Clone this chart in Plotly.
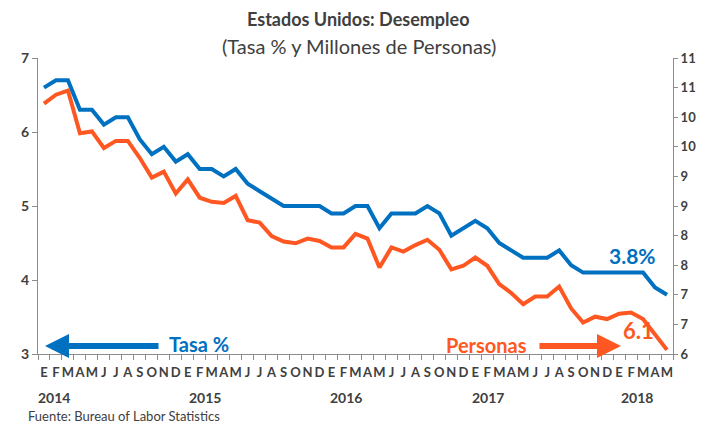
import plotly.graph_objects as go

months_2014_2017 = ["E", "F", "M", "A", "M", "J", "J", "A", "S", "O", "N", "D"]
month_labels = months_2014_2017 * 4 + ["E", "F", "M", "A", "M"]
years = ["2014", "2015", "2016", "2017", "2018"]

# Unemployment rate (%), Jan 2014 - May 2018
tasa = [6.6, 6.7, 6.7, 6.3, 6.3, 6.1, 6.2, 6.2, 5.9, 5.7, 5.8, 5.6,
        5.7, 5.5, 5.5, 5.4, 5.5, 5.3, 5.2, 5.1, 5.0, 5.0, 5.0, 5.0,
        4.9, 4.9, 5.0, 5.0, 4.7, 4.9, 4.9, 4.9, 5.0, 4.9, 4.6, 4.7,
        4.8, 4.7, 4.5, 4.4, 4.3, 4.3, 4.3, 4.4, 4.2, 4.1, 4.1, 4.1,
        4.1, 4.1, 4.1, 3.9, 3.8]
# Unemployed persons (millions)
personas = [10.23, 10.38, 10.45, 9.73, 9.76, 9.48, 9.60, 9.60, 9.31, 8.98, 9.08, 8.71,
            8.95, 8.64, 8.57, 8.55, 8.67, 8.26, 8.22, 7.99, 7.90, 7.87, 7.95, 7.91,
            7.80, 7.80, 8.03, 7.95, 7.46, 7.80, 7.73, 7.84, 7.93, 7.76, 7.43, 7.49,
            7.63, 7.49, 7.18, 7.03, 6.84, 6.97, 6.97, 7.14, 6.77, 6.53, 6.63, 6.59,
            6.68, 6.70, 6.59, 6.32, 6.07]

right_tickvals = [6, 6.5, 7, 7.5, 8, 8.5, 9, 9.5, 10, 10.5, 11]
right_ticktext = ["6", "7", "7", "8", "8", "9", "9", "10", "10", "11", "11"]

BLUE = "#0070C0"
ORANGE = "#FF5722"
TXT = "#404040"
AXC = "#8C8C8C"
FONT = "Lato"

# the page body has an 8px margin; the figure is sized to fill the rest
OFF = 8
VW, VH = 714, 426
W, H = VW - OFF, VH - OFF
PLOT_L, PLOT_R, PLOT_T, PLOT_B = 38, 673, 58, 354  # in window pixels
L = PLOT_L - OFF
T = PLOT_T - OFF
R = VW - PLOT_R
B = VH - PLOT_B
PW, PH = PLOT_R - PLOT_L, PLOT_B - PLOT_T


def px(x):
    return (x - PLOT_L) / PW


def py(y):
    return (PLOT_B - y) / PH


n = len(tasa)
xs = list(range(n))

fig = go.Figure()
fig.add_trace(go.Scatter(x=xs, y=tasa, mode="lines", yaxis="y",
                         line=dict(color=BLUE, width=4), hoverinfo="skip"))
fig.add_trace(go.Scatter(x=xs, y=personas, mode="lines", yaxis="y2",
                         line=dict(color=ORANGE, width=4), hoverinfo="skip"))

ann = []
ann.append(dict(text="<b>Estados Unidos: Desempleo</b>", xref="paper", yref="paper",
                x=px(358), y=py(19), showarrow=False, xanchor="center", yanchor="middle",
                borderpad=0, font=dict(family=FONT, size=18, color=TXT)))
ann.append(dict(text="(Tasa % y Millones de Personas)", xref="paper", yref="paper",
                x=px(359), y=py(46), showarrow=False, xanchor="center", yanchor="middle",
                font=dict(family=FONT, size=20, color=TXT)))

year_px = [54, 205, 346, 488, 637]
for yr, xp in zip(years, year_px):
    ann.append(dict(text="<b>" + yr + "</b>", xref="paper", yref="paper", x=px(xp), y=py(397),
                    showarrow=False, font=dict(family=FONT, size=14, color=TXT),
                    xanchor="center", yanchor="middle"))

ann.append(dict(text="Fuente: Bureau of Labor Statistics", xref="paper", yref="paper",
                x=px(26), y=py(416), showarrow=False, xanchor="left", yanchor="middle",
                font=dict(family=FONT, size=13, color=TXT)))

# labels
ann.append(dict(text="<b>Tasa %</b>", xref="paper", yref="paper", x=px(167), y=py(344),
                showarrow=False, xanchor="left", yanchor="middle",
                font=dict(family=FONT, size=20, color=BLUE)))
ann.append(dict(text="<b>Personas</b>", xref="paper", yref="paper", x=px(529), y=py(345),
                showarrow=False, xanchor="right", yanchor="middle",
                font=dict(family=FONT, size=20, color=ORANGE)))
ann.append(dict(text="<b>6.1</b>", xref="paper", yref="paper", x=px(638), y=py(330),
                showarrow=False, xanchor="center", yanchor="middle",
                font=dict(family=FONT, size=22, color=ORANGE)))
ann.append(dict(text="<b>3.8%</b>", xref="paper", yref="paper", x=px(632), y=py(256),
                showarrow=False, xanchor="center", yanchor="middle",
                font=dict(family=FONT, size=21, color=BLUE)))

# arrows
ann.append(dict(text="", xref="paper", yref="paper", x=px(45), y=py(346),
                ax=115, ay=0, showarrow=True, arrowhead=2, arrowsize=0.8,
                arrowwidth=6, arrowcolor=BLUE, standoff=0))
ann.append(dict(text="", xref="paper", yref="paper", x=px(621), y=py(346),
                ax=-83, ay=0, showarrow=True, arrowhead=2, arrowsize=0.8,
                arrowwidth=6, arrowcolor=ORANGE, standoff=0))

fig.update_layout(
    width=W, height=H,
    margin=dict(l=L, r=R, t=T, b=B),
    paper_bgcolor="white", plot_bgcolor="white",
    showlegend=False,
    font=dict(family=FONT, color=TXT),
    annotations=ann,
    xaxis=dict(
        range=[-0.5, n - 0.5], tickmode="array", tickvals=xs, ticktext=month_labels,
        ticks="outside", ticklen=6, tickcolor="rgba(0,0,0,0)",
        tickfont=dict(family=FONT, size=13, color=TXT, weight="bold"),
        showline=True, linecolor=AXC, linewidth=1, showgrid=False, zeroline=False,
        tickangle=0, automargin=False,
        minor=dict(tickmode="array", tickvals=[i - 0.5 for i in range(n + 1)],
                   ticks="outside", ticklen=5, tickcolor=AXC, showgrid=False),
    ),
    yaxis=dict(
        range=[3, 7], tickmode="array", tickvals=[3, 4, 5, 6, 7],
        ticks="outside", ticklen=5, tickcolor=AXC, automargin=False,
        tickfont=dict(family=FONT, size=14, color=TXT, weight="bold"),
        showline=True, linecolor=AXC, linewidth=1, showgrid=False, zeroline=False,
    ),
    yaxis2=dict(
        range=[6, 11], tickmode="array", tickvals=right_tickvals, ticktext=right_ticktext,
        overlaying="y", side="right", automargin=False,
        ticks="outside", ticklen=4, tickcolor=AXC,
        tickfont=dict(family=FONT, size=13, color=TXT, weight="bold"),
        showline=True, linecolor=AXC, linewidth=1, showgrid=False, zeroline=False,
    ),
)

fig.write_html("out.html")
